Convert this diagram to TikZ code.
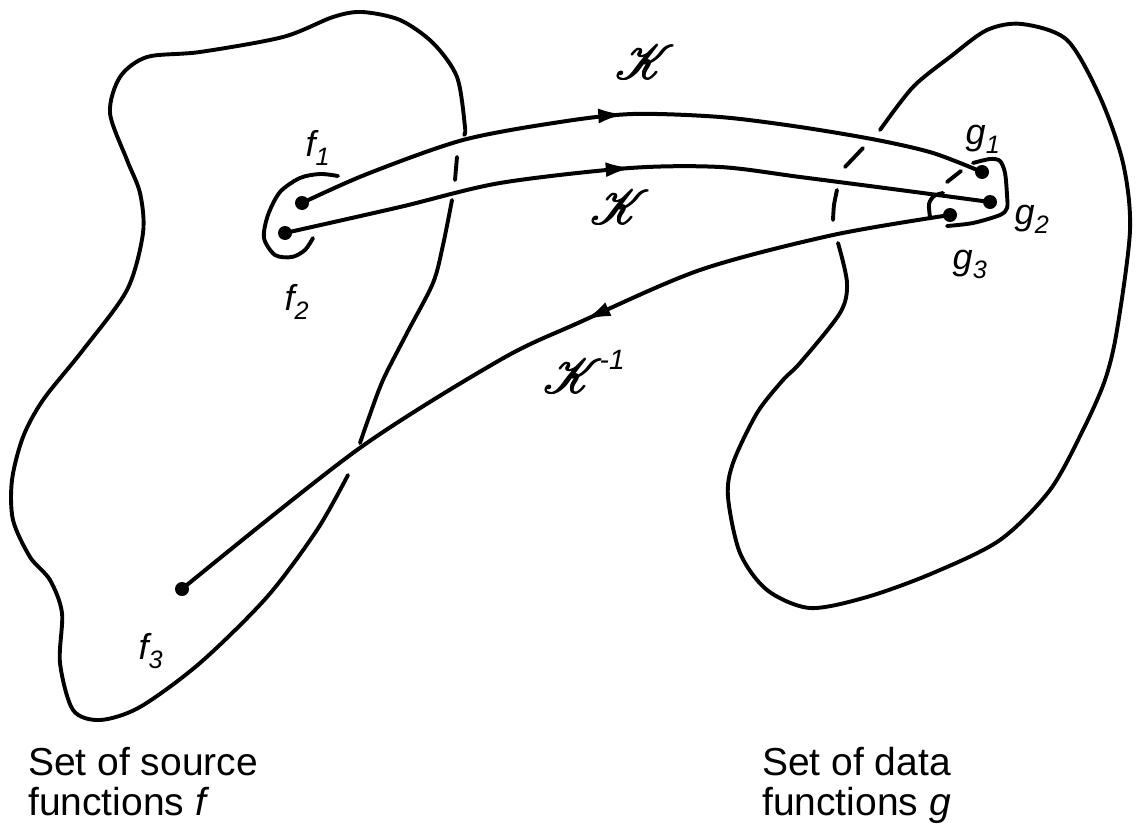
\documentclass[tikz,border=0pt]{standalone}
\usepackage{fontspec}
\setmainfont{Liberation Sans}
\usepackage{mathrsfs}
\usepackage{graphicx}
\usetikzlibrary{decorations.markings,arrows.meta}
\newcommand\heavyK{\rlap{$\mathscr{K}$}\kern0.25pt\rlap{$\mathscr{K}$}\rlap{\raisebox{0.15pt}{$\mathscr{K}$}}\kern-0.12pt\raisebox{0.2pt}{$\mathscr{K}$}}
\newcommand\opK{\scalebox{4.8}{\heavyK}}
\tikzset{
  outline/.style={line width=3.9pt, line cap=round, line join=round},
  map/.style={line width=4pt, line cap=round},
  pt/.style={circle, fill, inner sep=0pt, minimum size=14pt},
  lbl/.style={inner sep=0pt, font=\fontsize{36}{40}\selectfont\itshape},
  opname/.style={inner sep=0pt},
  caption/.style={inner sep=0pt, anchor=base west, text height=28pt, text depth=7pt, font=\fontsize{39}{36}\selectfont},
  midarrow/.style={postaction={decorate}, decoration={markings,
      mark=at position #1 with {\arrow{Latex[length=26pt,width=15pt]}}}}
}
\begin{document}
\begin{tikzpicture}[x=1pt,y=-1pt]
\useasboundingbox (0,0) rectangle (1139,824);

% points
\node[pt] (f1) at (302,203) {};
\node[pt] (f2) at (285,233) {};
\node[pt] (f3) at (182,589) {};
\node[pt] (g1) at (982,172) {};
\node[pt] (g2) at (990,202) {};
\node[pt] (g3) at (950,215) {};

% left blob (source functions)
\draw[outline] plot[smooth] coordinates {(348,475) (317,530) (267,597) (200,663) (140,707) (100,720) (73,710) (60,663) (62,613) (50,580) (30,557) (13,520) (12,480) (23,437) (43,400) (83,350) (127,290) (143,233) (140,193) (127,160) (110,113) (120,77) (147,57) (200,52) (283,37) (333,17) (362,12) (400,20) (433,43) (457,77) (465,127) (464,135)};
\draw[outline] (457,157) -- (455,180);
\draw[outline] plot[smooth] coordinates {(452,200) (443,245) (433,283) (407,333) (383,380) (368,420) (360,443)};

% right blob (data functions)
\draw[outline] plot[smooth] coordinates {(838,243) (847,283) (840,313) (800,363) (783,380) (757,413) (733,463) (728,497) (740,553) (767,590) (810,608) (867,597) (933,573) (1000,540) (1050,490) (1083,430) (1105,380) (1117,330) (1130,230) (1123,163) (1100,97) (1067,40) (1022,24) (987,30) (950,57) (913,87) (880,130)};
\draw[outline] (863,148) -- (845,167);
\draw[outline] plot[smooth] coordinates {(837,190) (834,205) (833,220)};

% brackets
\draw[outline] plot[smooth] coordinates {(338,176) (320,174) (300,178) (280,192) (268,215) (264,238) (275,255) (292,257) (305,250) (313,238)};
\draw[outline] plot[smooth] coordinates {(973,163) (990,159) (1000,161) (1005,173) (1007,195) (1007,208) (1000,215) (973,223) (947,226)};
\draw[outline] plot[smooth] coordinates {(930,217) (929,204) (934,196) (943,193)};
\draw[outline] (947,182) -- (961,171);

% mappings
\draw[map, midarrow=0.48] plot[smooth] coordinates {(f1.center) (367,174) (463,140) (560,122) (633,114) (720,117) (800,127) (877,140) (933,153) (g1.center)};
\draw[map, midarrow=0.495] plot[smooth] coordinates {(f2.center) (400,207) (500,183) (630,168) (720,167) (800,177) (900,190) (g2.center)};
\draw[map, midarrow=0.44] plot[smooth] coordinates {(g3.center) (833,235) (700,270) (578,323) (500,360) (357,450) (f3.center)};

% labels
\node[lbl] (lf1) at (318,148) {f\textsubscript{1}};
\node[lbl] (lf2) at (297,302) {f\textsubscript{2}};
\node[lbl] (lf3) at (151,651) {f\textsubscript{3}};
\node[lbl] (lg1) at (983,139) {g\textsubscript{1}};
\node[lbl] (lg2) at (1032,219) {g\textsubscript{2}};
\node[lbl] (lg3) at (970,264) {g\textsubscript{3}};

\node[opname] (K1) at (645,62) {\opK};
\node[opname] (K2) at (620,207) {\opK};
\node[opname, anchor=west] (K3) at (543,372) {\opK\kern-3pt\raisebox{24pt}{\fontsize{28}{30}\selectfont\itshape -1}};

\node[caption] (src1) at (28,775) {Set of source};
\node[caption] (src2) at (28,815) {functions \textit{f}};
\node[caption] (dat1) at (762,775) {Set of data};
\node[caption] (dat2) at (762,815) {functions \textit{g}};
\end{tikzpicture}
\end{document}
